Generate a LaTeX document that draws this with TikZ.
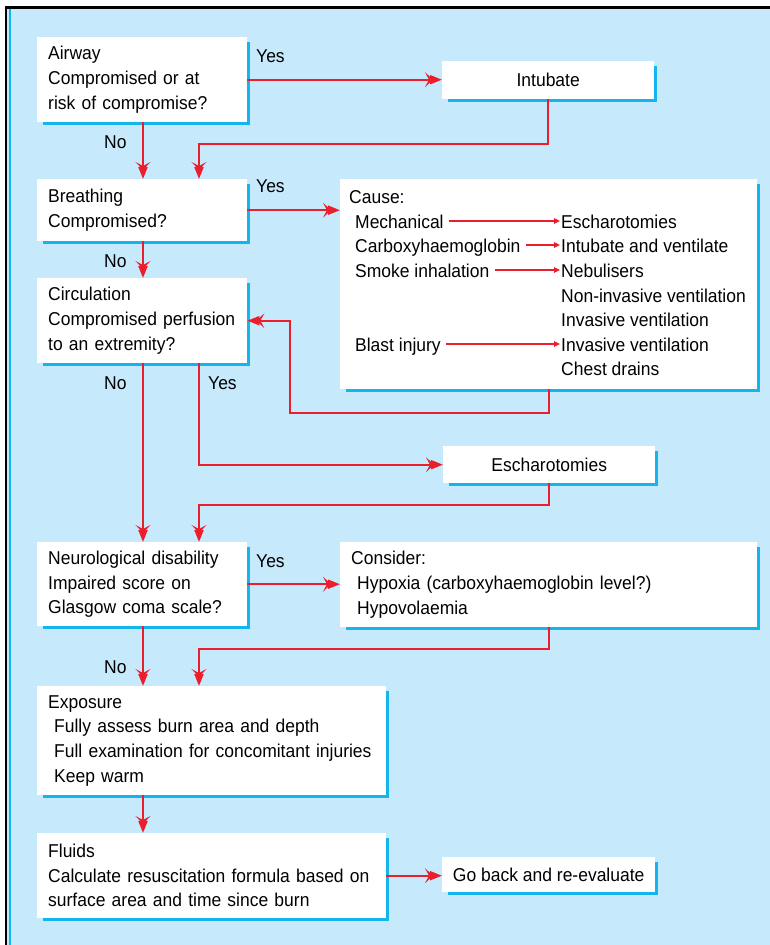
\documentclass[tikz,border=0pt]{standalone}
\usepackage{fontspec}
\usetikzlibrary{arrows.meta,backgrounds,calc}
\newfontfamily\diafont[FakeStretch=0.94]{Liberation Sans}
\definecolor{bgblue}{RGB}{198,234,252}
\definecolor{shadowc}{RGB}{20,180,236}
\definecolor{redc}{RGB}{234,30,45}
\tikzset{
  txt/.style={font=\diafont\fontsize{18.6}{24.6}\selectfont, text=black},
  box/.style={txt, fill=white, anchor=north west, inner xsep=11pt, inner ysep=0pt, align=left},
  cbox/.style={txt, fill=white, anchor=north west, inner sep=0pt, align=center},
  arr/.style={draw=redc, line width=1.9pt, -{Stealth[length=8pt,width=15pt,inset=4pt,sep=-3pt]Triangle[length=12pt,width=9pt]}},
  smallarr/.style={draw=redc, line width=1.4pt, -{Triangle[length=6pt,width=5.5pt]}},
  lab/.style={txt, anchor=base west, inner sep=0pt},
}
\begin{document}
\begin{tikzpicture}[x=1pt,y=-1pt]
\useasboundingbox (0,0) rectangle (770,945);
% boxes
\node[box, minimum width=210pt, minimum height=85pt, text width=188pt] (airway) at (37,37)
  {Airway\\Compromised or at\\risk of compromise?};
\node[cbox, minimum width=212pt, minimum height=38pt] (intubate) at (442,61) {Intubate};
\node[box, minimum width=210pt, minimum height=62pt, text width=188pt] (breathing) at (37,179)
  {Breathing\\Compromised?};
\node[box, minimum width=417pt, minimum height=210pt, text width=395pt] (cause) at (340,179) {};
\node[box, minimum width=210pt, minimum height=85pt, text width=188pt] (circulation) at (37,278)
  {Circulation\\Compromised perfusion\\to an extremity?};
\node[cbox, minimum width=212pt, minimum height=37pt] (esch) at (443,446) {Escharotomies};
\node[box, minimum width=210pt, minimum height=84pt, text width=188pt] (neuro) at (37,542)
  {Neurological disability\\Impaired score on\\Glasgow coma scale?};
\node[box, minimum width=417pt, minimum height=85pt, text width=395pt] (consider) at (340,542)
  {Consider:\\\hspace*{6pt}Hypoxia (carboxyhaemoglobin level?)\\\hspace*{6pt}Hypovolaemia};
\node[box, minimum width=349pt, minimum height=109pt, text width=327pt] (exposure) at (37,686)
  {Exposure\\\hspace*{6pt}Fully assess burn area and depth\\\hspace*{6pt}Full examination for concomitant injuries\\\hspace*{6pt}Keep warm};
\node[box, minimum width=349pt, minimum height=85pt, text width=327pt] (fluids) at (37,833)
  {Fluids\\Calculate resuscitation formula based on\\surface area and time since burn};
\node[cbox, minimum width=213pt, minimum height=35pt] (goback) at (442,857) {Go back and re-evaluate};

% cause box contents
\node[lab] (causet) at (349,203) {Cause:};
\node[lab] (mech) at (355,228) {Mechanical};
\node[lab] (carb) at (355,252) {Carboxyhaemoglobin};
\node[lab] (smoke) at (355,277) {Smoke inhalation};
\node[lab] (blast) at (355,351) {Blast injury};
\node[lab] (resc) at (561,228) {Escharotomies};
\node[lab] (rint) at (561,252) {Intubate and ventilate};
\node[lab] (rneb) at (561,277) {Nebulisers};
\node[lab] (rniv) at (561,302) {Non-invasive ventilation};
\node[lab] (riv) at (561,326) {Invasive ventilation};
\node[lab] (riv2) at (561,351) {Invasive ventilation};
\node[lab] (rchest) at (561,375) {Chest drains};
\draw[smallarr] ([shift={(5,-7)}]mech.base east) -- ([shift={(-1,-7)}]resc.base west);
\draw[smallarr] ([shift={(5,-7)}]carb.base east) -- ([shift={(-1,-7)}]rint.base west);
\draw[smallarr] ([shift={(5,-7)}]smoke.base east) -- ([shift={(-1,-7)}]rneb.base west);
\draw[smallarr] ([shift={(5,-7)}]blast.base east) -- ([shift={(-1,-7)}]riv2.base west);

% labels
\node[lab] (y1) at (256,62) {Yes};
\node[lab] (n1) at (104,148) {No};
\node[lab] (y2) at (256,192) {Yes};
\node[lab] (n2) at (104,267) {No};
\node[lab] (n3) at (104,389) {No};
\node[lab] (y3) at (208,389) {Yes};
\node[lab] (y4) at (256,567) {Yes};
\node[lab] (n4) at (104,673) {No};

% columns
\coordinate (colA) at (143,0);
\coordinate (colB) at (199,0);
\coordinate (colD) at (290,0);

% connectors
\draw[arr] (airway.east) -- (airway.east -| intubate.west);
\draw[arr] (airway.south -| colA) -- (breathing.north -| colA);
\draw[arr] (intubate.south) -- ++(0,45) -| (breathing.north -| colB);
\draw[arr] (breathing.east) -- (breathing.east -| cause.west);
\draw[arr] (breathing.south -| colA) -- (circulation.north -| colA);
\draw[arr] (cause.south) -- ++(0,24) -| (colD |- circulation.east) -- (circulation.east);
\draw[arr] (circulation.south -| colA) -- (neuro.north -| colA);
\draw[arr] (circulation.south -| colB) |- (esch.west);
\draw[arr] (esch.south) -- ++(0,22) -| (neuro.north -| colB);
\draw[arr] (neuro.east) -- (neuro.east -| consider.west);
\draw[arr] (neuro.south -| colA) -- (exposure.north -| colA);
\draw[arr] (consider.south) -- ++(0,22) -| (exposure.north -| colB);
\draw[arr] (exposure.south -| colA) -- (fluids.north -| colA);
\draw[arr] (fluids.east) -- (fluids.east -| goback.west);

\begin{scope}[on background layer]
  \fill[white] (0,0) rectangle (770,945);
  \fill[bgblue] (6,8) rectangle (770,945);
  \draw[black, line width=2.2pt] (6,945) -- (6,7.5) -- (770,7.5);
  \draw[shadowc, line width=1.8pt] (10,9) -- (10,945);
  \foreach \n in {airway,intubate,breathing,cause,circulation,esch,neuro,consider,exposure,fluids,goback}
    \fill[shadowc] ([shift={(6,5)}]\n.north west) rectangle ([shift={(3,3)}]\n.south east);
\end{scope}
\end{tikzpicture}
\end{document}
